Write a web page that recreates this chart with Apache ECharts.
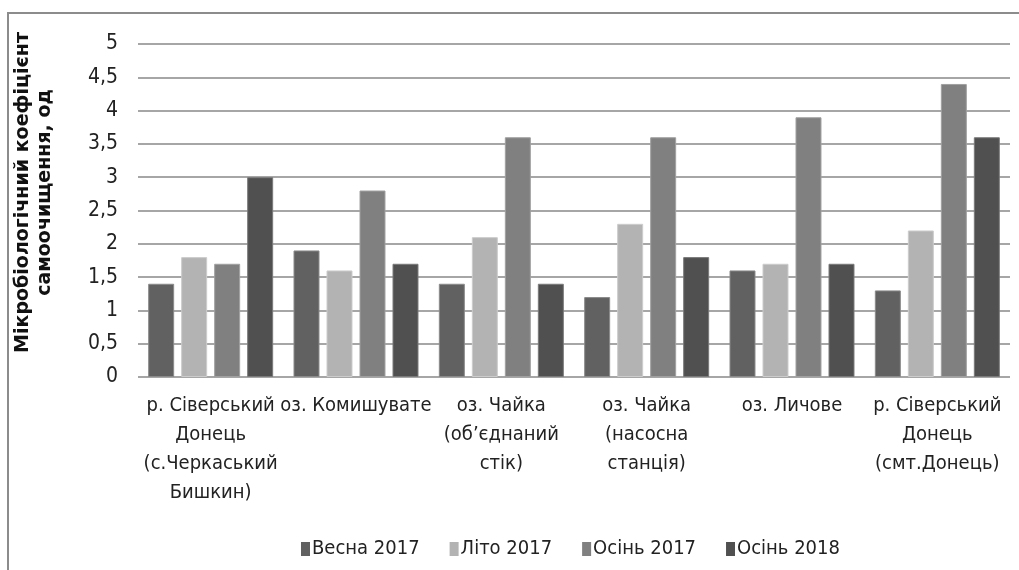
<!DOCTYPE html>
<html>
<head>
<meta charset="utf-8">
<script src="https://cdn.jsdelivr.net/npm/echarts@6/dist/echarts.min.js"></script>
<style>
  html, body { margin: 0; padding: 0; background: #fff; }
  #chart { width: 1019px; height: 570px; }
</style>
</head>
<body>
<div id="chart"></div>
<script>
// categories (water bodies)
const categories = [
  'р. Сіверський\nДонець\n(с.Черкаський\nБишкин)',
  'оз. Комишувате',
  'оз. Чайка\n(об\u2019єднаний\nстік)',
  'оз. Чайка\n(насосна\nстанція)',
  'оз. Личове',
  'р. Сіверський\nДонець\n(смт.Донець)'
];

const seriesNames = ['Весна 2017', 'Літо 2017', 'Осінь 2017', 'Осінь 2018'];

// values per season
const spring2017 = [1.4, 1.9, 1.4, 1.2, 1.6, 1.3];
const summer2017 = [1.8, 1.6, 2.1, 2.3, 1.7, 2.2];
const autumn2017 = [1.7, 2.8, 3.6, 3.6, 3.9, 4.4];
const autumn2018 = [3.0, 1.7, 1.4, 1.8, 1.7, 3.6];

const seriesData = [spring2017, summer2017, autumn2017, autumn2018];
const colors = ['#616161', '#b3b3b3', '#808080', '#505050'];
const edgeColors = ['#8a8a8a', '#cccccc', '#a0a0a0', '#7a7a7a'];

const narrow = "'Liberation Sans Narrow', 'DejaVu Sans Condensed', sans-serif";

let chartDiv = document.getElementById('chart');
let myChart = echarts.init(chartDiv, null, { renderer: 'canvas' });

let option = {
  animation: false,
  color: colors,
  graphic: [
    {
      type: 'rect',
      shape: { x: 8, y: 13, width: 1100, height: 650 },
      style: { fill: 'none', stroke: '#8c8c8c', lineWidth: 2 },
      silent: true
    }
  ],
  grid: {
    left: 138,
    right: 9,
    top: 44,
    bottom: 193,
    outerBoundsMode: 'none'
  },
  legend: {
    bottom: 6,
    left: 296,
    itemWidth: 9,
    itemHeight: 14,
    itemGap: 30,
    icon: 'rect',
    itemStyle: { borderWidth: 0 },
    textStyle: { fontFamily: narrow, fontSize: 20, color: '#222', padding: [0, 0, 0, -3] },
    data: seriesNames
  },
  xAxis: {
    type: 'category',
    data: categories,
    axisLine: { show: false },
    axisTick: { show: false },
    axisLabel: {
      interval: 0,
      margin: 14,
      fontFamily: narrow,
      fontSize: 20,
      lineHeight: 29,
      color: '#222',
      align: 'center'
    }
  },
  yAxis: {
    type: 'value',
    min: 0,
    max: 5,
    interval: 0.5,
    name: 'Мікробіологічний коефіцієнт\nсамоочищення, од',
    nameLocation: 'middle',
    nameRotate: 90,
    nameGap: 82,
    nameTextStyle: {
      fontFamily: 'DejaVu Sans',
      fontWeight: 'bold',
      fontSize: 19,
      lineHeight: 22,
      color: '#111',
      padding: [0, 0, 0, 36]
    },
    axisLine: { show: false },
    axisTick: { show: false },
    axisLabel: {
      margin: 20,
      fontFamily: narrow,
      fontSize: 21,
      color: '#222',
      formatter: v => String(v).replace('.', ',')
    },
    splitLine: { lineStyle: { color: '#a6a6a6', width: 2 } }
  },
  series: seriesData.map((d, i) => ({
    name: seriesNames[i],
    type: 'bar',
    data: d,
    barGap: '27%',
    barCategoryGap: '14%',
    itemStyle: { color: colors[i], borderColor: edgeColors[i], borderWidth: 1 }
  }))
};

myChart.setOption(option);
</script>
</body>
</html>
